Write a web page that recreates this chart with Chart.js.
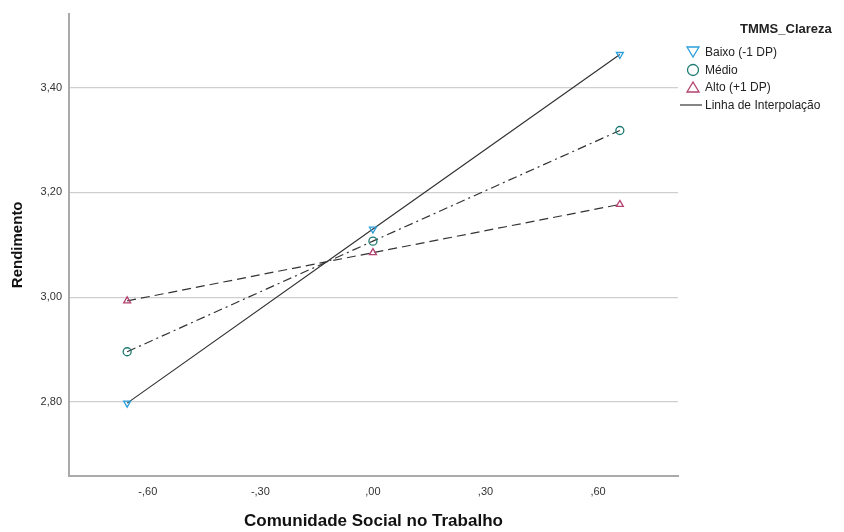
<!DOCTYPE html>
<html>
<head>
<meta charset="utf-8">
<script src="https://cdn.jsdelivr.net/npm/chart.js@4"></script>
<style>
	body { margin: 0; background: #fff; font-family: "Liberation Sans", Arial, sans-serif; }
	#wrap { position: relative; width: 844px; height: 532px; }
	#legend { position: absolute; left: 684px; top: 21px; color: #222; font-size: 12px; }
	#legend .title { font-weight: bold; font-size: 13px; margin-left: 56px; margin-bottom: 7px; }
	#legend .item { display: flex; align-items: center; height: 17.7px; }
	#legend svg { width: 18px; height: 14px; margin-right: 3px; }
</style>
</head>
<body>
<div id="wrap">
	<canvas id="chart" width="844" height="532"></canvas>
	<div id="legend">
		<div class="title">TMMS_Clareza</div>
		<div class="item"><svg viewBox="0 0 18 14"><polygon points="3,2 15,2 9,12" fill="none" stroke="#2a9fdc" stroke-width="1.3"/></svg>Baixo (-1 DP)</div>
		<div class="item"><svg viewBox="0 0 18 14"><circle cx="9" cy="7" r="5.5" fill="none" stroke="#1d7a72" stroke-width="1.3"/></svg>Médio</div>
		<div class="item"><svg viewBox="0 0 18 14"><polygon points="3,12 15,12 9,2" fill="none" stroke="#b4426e" stroke-width="1.3"/></svg>Alto (+1 DP)</div>
		<div class="item"><svg viewBox="0 0 18 14" style="margin-left:-8px;width:26px"><line x1="0" y1="7" x2="26" y2="7" stroke="#333" stroke-width="1.2"/></svg>Linha de Interpolação</div>
	</div>
</div>
<script>
// dados
const xValues = [-0.655, 0.0, 0.658]
const baixo = [2.798, 3.130, 3.463]
const medio = [2.896, 3.107, 3.318]
const alto = [2.993, 3.085, 3.177]
const xTicks = [-0.6, -0.3, 0.0, 0.3, 0.6]
const yTicks = [2.8, 3.0, 3.2, 3.4]

const fmt = (v) => v.toFixed(2).replace('.', ',').replace(/^(-?)0,/, '$1,')
const pts = (ys) => xValues.map((x, i) => ({x: x, y: ys[i]}))

const tickFont = {family: "'Liberation Sans', Arial, sans-serif", size: 11}
const titleFont = {family: "'Liberation Sans', Arial, sans-serif", size: 15, weight: 'bold'}

new Chart(document.getElementById('chart'), {
	type: 'line',
	data: {
		datasets: [
			{
				label: 'Baixo (-1 DP)',
				data: pts(baixo),
				borderColor: '#333',
				borderWidth: 1.2,
				pointStyle: 'triangle',
				rotation: 180,
				pointRadius: 4,
				pointBorderColor: '#2a9fdc',
				pointBackgroundColor: 'rgba(0,0,0,0)',
				pointBorderWidth: 1.3
			},
			{
				label: 'Médio',
				data: pts(medio),
				borderColor: '#333',
				borderWidth: 1.2,
				borderDash: [9, 4, 2, 4],
				pointStyle: 'circle',
				pointRadius: 4,
				pointBorderColor: '#1d7a72',
				pointBackgroundColor: 'rgba(0,0,0,0)',
				pointBorderWidth: 1.3
			},
			{
				label: 'Alto (+1 DP)',
				data: pts(alto),
				borderColor: '#333',
				borderWidth: 1.2,
				borderDash: [9, 5],
				pointStyle: 'triangle',
				pointRadius: 4,
				pointBorderColor: '#b4426e',
				pointBackgroundColor: 'rgba(0,0,0,0)',
				pointBorderWidth: 1.3
			}
		]
	},
	options: {
		responsive: false,
		animation: false,
		layout: {padding: {top: 6, right: 166, left: 5, bottom: 0}},
		plugins: {legend: {display: false}, tooltip: {enabled: false}},
		scales: {
			x: {
				type: 'linear',
				min: -0.81,
				max: 0.813,
				afterBuildTicks: (s) => { s.ticks = xTicks.map(v => ({value: v})) },
				afterFit: (s) => { s.height = 56 },
				grid: {display: false, drawTicks: false},
				border: {color: '#aaa', width: 2},
				ticks: {callback: fmt, color: '#333', font: tickFont, padding: 9, maxRotation: 0},
				title: {display: true, text: 'Comunidade Social no Trabalho', color: '#111', font: {...titleFont, size: 17}, padding: {top: 20, bottom: 0}}
			},
			y: {
				min: 2.659,
				max: 3.541,
				afterBuildTicks: (s) => { s.ticks = yTicks.map(v => ({value: v})) },
				afterFit: (s) => { s.width = 64 },
				grid: {color: '#cfcfcf', lineWidth: 1.3, drawTicks: false},
				border: {color: '#aaa', width: 2},
				ticks: {callback: fmt, color: '#333', font: tickFont, padding: 7},
				title: {display: true, text: 'Rendimento', color: '#111', font: titleFont, padding: {bottom: 4}}
			}
		}
	}
})
</script>
</body>
</html>
